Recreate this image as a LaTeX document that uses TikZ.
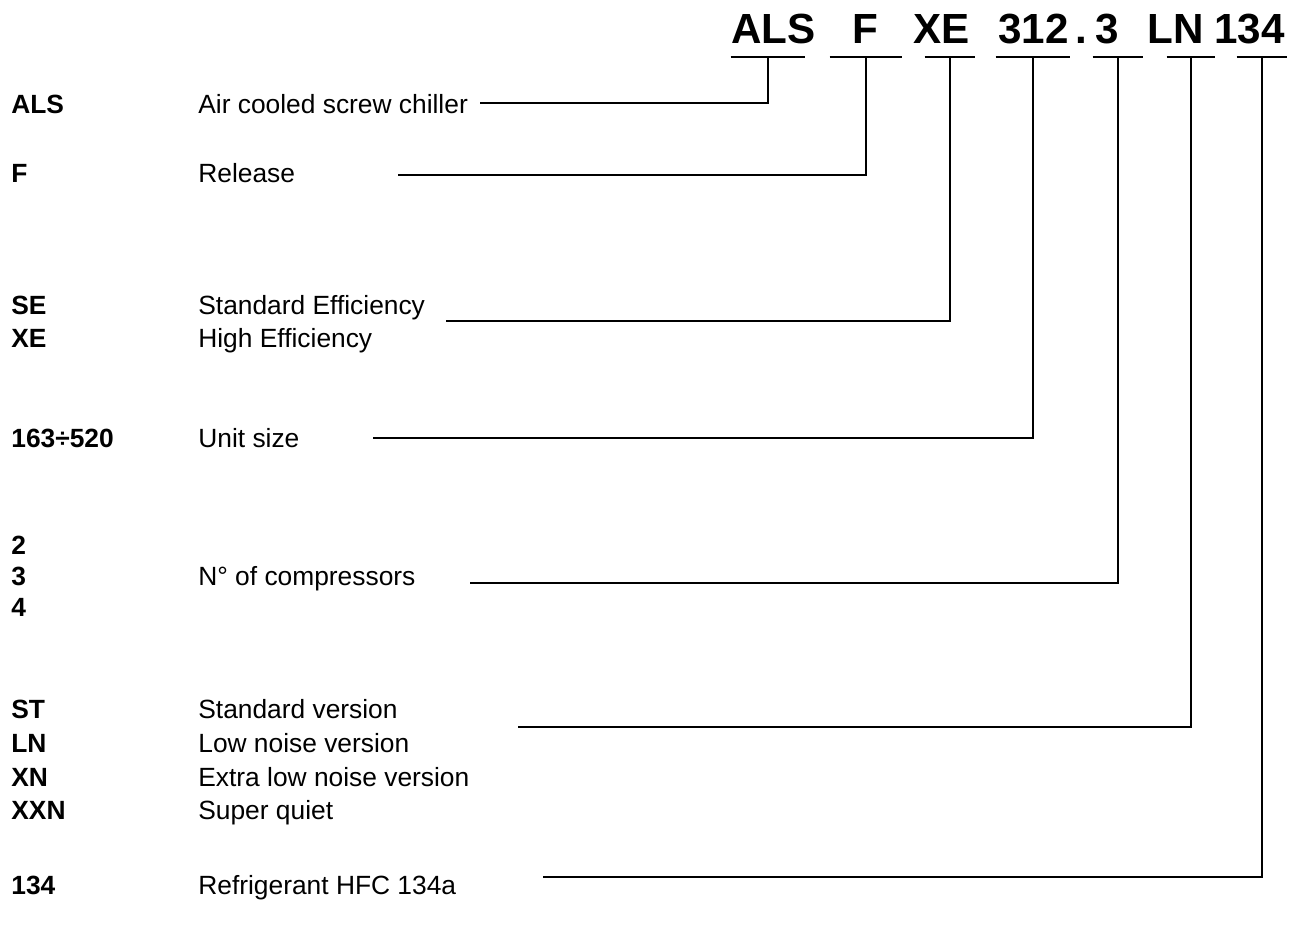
\documentclass[tikz,border=0pt]{standalone}
\usepackage{fontspec}
\setmainfont{Liberation Sans}

\tikzset{
    code/.style={font=\fontsize{24}{28}\selectfont\bfseries, inner sep=0pt, anchor=base west},
    key/.style={font=\fontsize{15}{18}\selectfont\bfseries, inner sep=0pt, anchor=base west},
    desc/.style={font=\fontsize{15}{18}\selectfont, inner sep=0pt, anchor=base west},
    bar/.style={inner sep=0pt, minimum height=0pt},
    wire/.style={line width=1.1pt}
}

\begin{document}
\begin{tikzpicture}[x=0.02cm, y=-0.02cm]

    \useasboundingbox (0,0) rectangle (1300,931);

    \node[code] (hALS) at (731,43) {ALS};
    \node[code] (hF) at (852,43) {F};
    \node[code] (hXE) at (913,43) {XE};
    \node[code] (hSize) at (998,43) {312};
    \node[code] (hDot) at (1075,43) {.};
    \node[code] (hComp) at (1095,43) {3};
    \node[code] (hVer) at (1147,43) {LN};
    \node[code] (hRef) at (1214,43) {134};

    \node[bar, minimum width=1.48cm] (uALS) at (768,57) {};
    \node[bar, minimum width=1.44cm] (uF) at (866,57) {};
    \node[bar, minimum width=1.0cm] (uXE) at (950,57) {};
    \node[bar, minimum width=1.48cm] (uSize) at (1033,57) {};
    \node[bar, minimum width=1.0cm] (uComp) at (1118,57) {};
    \node[bar, minimum width=0.96cm] (uVer) at (1191,57) {};
    \node[bar, minimum width=1.0cm] (uRef) at (1262,57) {};

    \node[key] (kALS) at (11,113) {ALS};
    \node[desc] (dALS) at (198,113) {Air cooled screw chiller};

    \node[key] (kF) at (11,182) {F};
    \node[desc] (dF) at (198,182) {Release};

    \node[key] (kSE) at (11,314) {SE};
    \node[desc] (dSE) at (198,314) {Standard Efficiency};
    \node[key] (kXE) at (11,347) {XE};
    \node[desc] (dXE) at (198,347) {High Efficiency};

    \node[key] (kSize) at (11,447) {163÷520};
    \node[desc] (dSize) at (198,447) {Unit size};

    \node[key] (kTwo) at (11,554) {2};
    \node[key] (kThree) at (11,585) {3};
    \node[desc] (dComp) at (198,585) {N° of compressors};
    \node[key] (kFour) at (11,616) {4};

    \node[key] (kST) at (11,718) {ST};
    \node[desc] (dST) at (198,718) {Standard version};
    \node[key] (kLN) at (11,752) {LN};
    \node[desc] (dLN) at (198,752) {Low noise version};
    \node[key] (kXN) at (11,786) {XN};
    \node[desc] (dXN) at (198,786) {Extra low noise version};
    \node[key] (kXXN) at (11,819) {XXN};
    \node[desc] (dXXN) at (198,819) {Super quiet};

    \node[key] (kRef) at (11,894) {134};
    \node[desc] (dRef) at (198,894) {Refrigerant HFC 134a};

    \coordinate (eALS) at (480,103);
    \coordinate (eF) at (398,175);
    \coordinate (eXE) at (446,321);
    \coordinate (eSize) at (373,438);
    \coordinate (eComp) at (470,583);
    \coordinate (eVer) at (518,727);
    \coordinate (eRef) at (543,877);

    \draw[wire] (uALS.west) -- (uALS.east);
    \draw[wire] (uF.west) -- (uF.east);
    \draw[wire] (uXE.west) -- (uXE.east);
    \draw[wire] (uSize.west) -- (uSize.east);
    \draw[wire] (uComp.west) -- (uComp.east);
    \draw[wire] (uVer.west) -- (uVer.east);
    \draw[wire] (uRef.west) -- (uRef.east);

    \draw[wire] (uALS) |- (eALS);
    \draw[wire] (uF) |- (eF);
    \draw[wire] (uXE) |- (eXE);
    \draw[wire] (uSize) |- (eSize);
    \draw[wire] (uComp) |- (eComp);
    \draw[wire] (uVer) |- (eVer);
    \draw[wire] (uRef) |- (eRef);

\end{tikzpicture}
\end{document}
